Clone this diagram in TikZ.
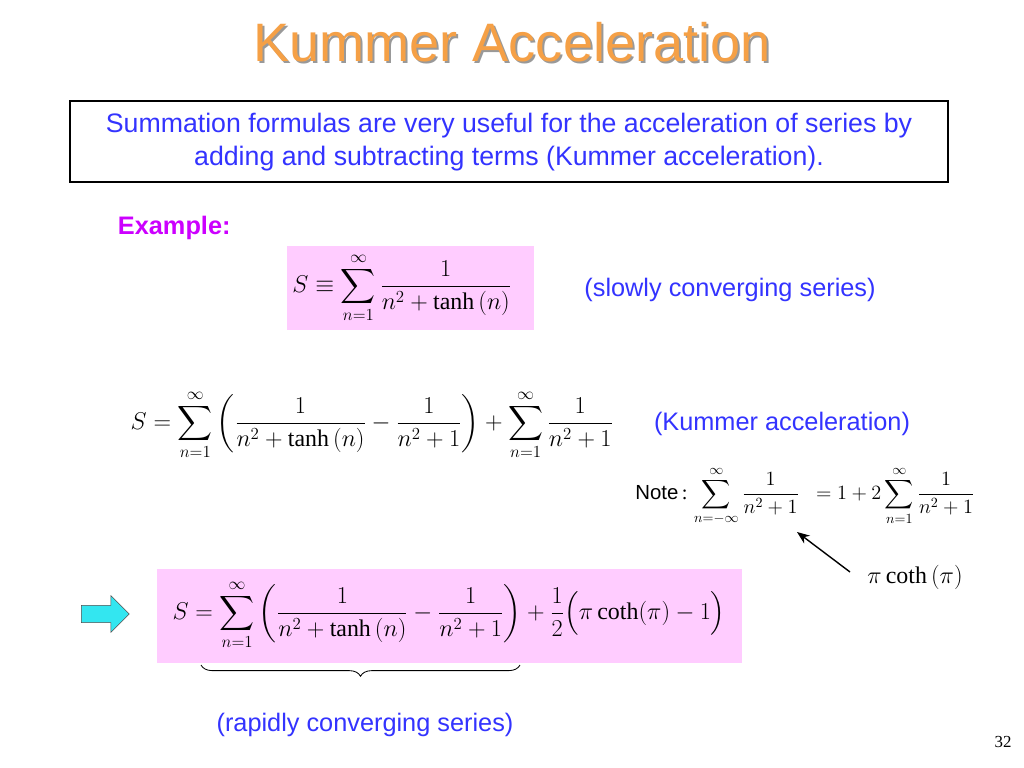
\documentclass[tikz,border=0pt]{standalone}
\usepackage{amsmath}
\usepackage{fontspec}
\setmainfont{Liberation Serif}
\setsansfont{Liberation Sans}
\usetikzlibrary{decorations.pathreplacing,shapes.arrows,arrows.meta}
\definecolor{titleorange}{RGB}{245,160,70}
\definecolor{textblue}{RGB}{51,51,255}
\definecolor{boxpink}{RGB}{255,204,255}
\definecolor{exmagenta}{RGB}{204,0,255}
\definecolor{arrowcyan}{RGB}{51,230,240}
\tikzset{
  bluetext/.style={text=textblue, font=\sffamily\fontsize{18}{22}\selectfont},
  mathtext/.style={font=\fontsize{17}{21}\selectfont},
  pinkbox/.style={fill=boxpink, draw=none}
}
\begin{document}
\begin{tikzpicture}[x=0.025cm, y=-0.025cm]
        \useasboundingbox (0,0) rectangle (1024,768);
        % title with shadow
        \node[text=black!40, font=\sffamily\fontsize{38.5}{44}\selectfont] at (514,44) {Kummer Acceleration};
        \node[text=titleorange, font=\sffamily\fontsize{38.5}{44}\selectfont] (title) at (512,42) {Kummer Acceleration};
        % statement box
        \draw[line width=1.5pt] (70,101) rectangle (948,182);
        \node[bluetext, font=\sffamily\fontsize{19}{24}\selectfont, align=center] (intro) at (509,142) {Summation formulas are very useful for the acceleration of series by\\adding and subtracting terms (Kummer acceleration).};
        \node[text=exmagenta, font=\sffamily\bfseries\fontsize{18}{22}\selectfont, anchor=west] (example) at (113,228) {Example:};
        % first series
        \fill[pinkbox] (287,246) rectangle (534,330);
        \node[mathtext] (sdef) at (402,288) {$S \equiv \displaystyle\sum_{n=1}^{\infty}\frac{1}{n^2+\tanh\left(n\right)}$};
        \node[bluetext] (slow) at (730,290) {(slowly converging series)};
        % kummer form
        \node[mathtext] (kummer) at (372,425) {$S = \displaystyle\sum_{n=1}^{\infty}\left(\frac{1}{n^2+\tanh\left(n\right)}-\frac{1}{n^2+1}\right)+\sum_{n=1}^{\infty}\frac{1}{n^2+1}$};
        \node[bluetext] (kacc) at (782,424) {(Kummer acceleration)};
        % note
        \node[font=\fontsize{14.5}{17}\selectfont] (note) at (805,496) {\textsf{Note}\,: $\displaystyle\sum_{n=-\infty}^{\infty}\frac{1}{n^2+1}\;\; = 1+2\sum_{n=1}^{\infty}\frac{1}{n^2+1}$};
        \node[mathtext] (coth) at (915,577) {$\pi\coth\left(\pi\right)$};
        \coordinate (cs) at (850,572);
        \draw[-{Stealth[length=9pt,width=7pt]}, line width=1pt] (cs) -- (797,532);
        % result
        \node[single arrow, fill=arrowcyan, draw=black!70, minimum width=26pt, minimum height=34pt, single arrow head extend=4pt] (goarrow) at (101,614) {};
        \fill[pinkbox] (157,569) rectangle (742,663);
        \node[mathtext] (result) at (449,615) {$S = \displaystyle\sum_{n=1}^{\infty}\left(\frac{1}{n^2+\tanh\left(n\right)}-\frac{1}{n^2+1}\right)+\frac{1}{2}\Big(\pi\coth(\pi)-1\Big)$};
        \draw[decorate, decoration={brace, mirror, amplitude=8pt}, line width=0.6pt] (201,665) -- (520,665);
        \node[bluetext] (rapid) at (365,725) {(rapidly converging series)};
        \node[font=\fontsize{12}{14}\selectfont] (page) at (1003,742) {32};
\end{tikzpicture}
\end{document}
